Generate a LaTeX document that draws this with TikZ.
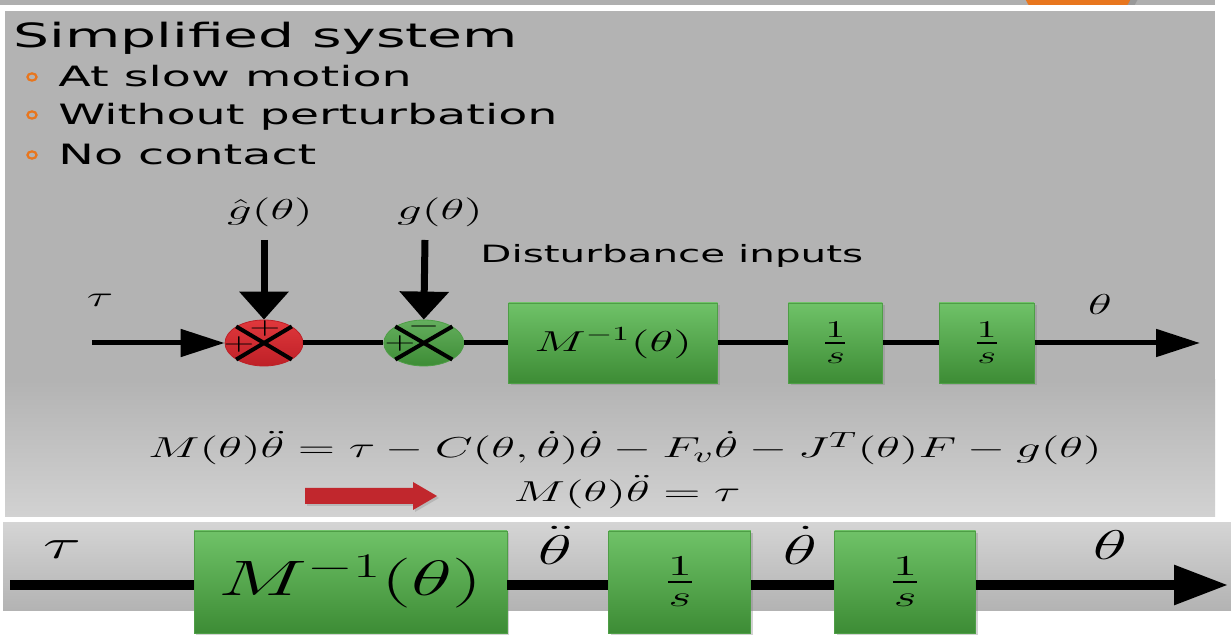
\documentclass[tikz,border=0pt]{standalone}
\usepackage{fontspec}
\usepackage{graphicx}
\usepackage{amsmath}
\usepackage{tikz}
\usetikzlibrary{arrows.meta, positioning, calc, shapes.geometric, shadows}
\newfontfamily\verd{DejaVu Sans}
\newcommand{\xwide}[1]{\scalebox{1.7}[1]{#1}}
\definecolor{panel}{HTML}{B3B3B3}
\definecolor{panellt}{HTML}{D2D2D2}
\definecolor{grntop}{HTML}{6FC268}
\definecolor{grnbot}{HTML}{3D8C35}
\definecolor{grnedge}{HTML}{4E9E46}
\definecolor{redtop}{HTML}{E0383C}
\definecolor{redbot}{HTML}{BE2027}
\definecolor{bulorange}{HTML}{E8761E}
\definecolor{arrred}{HTML}{C1272D}
\tikzset{
  blk/.style  = {rectangle, draw=grnedge, top color=grntop, bottom color=grnbot,
                 inner sep=0pt, drop shadow={opacity=.35, shadow xshift=1.2pt, shadow yshift=-1.2pt}},
  sumr/.style = {ellipse, draw=redbot, top color=redtop, bottom color=redbot,
                 minimum width=39pt, minimum height=23pt, inner sep=0pt},
  sumg/.style = {ellipse, draw=grnedge, top color=grntop!90!black, bottom color=grnbot,
                 minimum width=40pt, minimum height=23pt, inner sep=0pt},
  txt/.style  = {anchor=base west, inner sep=0pt, font=\verd\fontsize{14}{16}\selectfont},
  bul/.style  = {ellipse, draw=bulorange, line width=1.1pt, minimum width=4.6pt,
                 minimum height=3.6pt, inner sep=0pt},
  mlab/.style = {inner sep=0pt, font=\fontsize{14}{16}\selectfont},
  blab/.style = {inner sep=0pt, font=\fontsize{22}{24}\selectfont},
  sgn/.style  = {inner sep=0pt, font=\fontsize{12}{13}\selectfont},
  fl/.style   = {-{Triangle[length=22pt, width=13.5pt]}, line width=2.5pt},
  dn/.style   = {-{Triangle[length=14pt, width=24pt]}, line width=3.5pt},
  bfl/.style  = {-{Triangle[length=27pt, width=19pt]}, line width=4.5pt},
  bln/.style  = {line width=4.5pt},
  ln/.style   = {line width=2.5pt},
  xl/.style   = {line width=2pt},
}

\begin{document}
\begin{tikzpicture}[x=0.5pt, y=-0.5pt]
  \useasboundingbox (0,0) rectangle (1231,640);
  % panels
  \fill[white] (0,0) rectangle (1231,640);
  \fill[panel!105] (0,0) rectangle (1215,5);
  \begin{scope}
    \clip (0,0) rectangle (1215,5);
    \fill[black!40] (1082,-20) ellipse (60 and 52);
    \fill[bulorange] (1078,-20) ellipse (57 and 50);
  \end{scope}
  \fill[panel] (5,11) rectangle (1215,517);
  \shade[top color=panel, bottom color=panellt] (5,380) rectangle (1215,517);
  \shade[top color=panellt!95, bottom color=panel] (3,523) rectangle (1231,610);

  % bullet text
  \node[txt, font=\verd\fontsize{16.7}{20}\selectfont] (ttl) at (13,48) {\xwide{Simplified system}};
  \node[bul] (b1) at (32,77)  {};
  \node[bul] (b2) at (32,115) {};
  \node[bul] (b3) at (32,155) {};
  \node[txt] (it1) at (58,87)  {\xwide{At slow motion}};
  \node[txt] (it2) at (58,125) {\xwide{Without perturbation}};
  \node[txt] (it3) at (58,165) {\xwide{No contact}};

  % upper block diagram
  \node[sumr] (sumA) at (264,343) {};
  \node[sumg, right=40pt of sumA] (sumB) {};
  \node[blk, right=22pt of sumB, minimum width=104.5pt, minimum height=40pt,
        font=\fontsize{14.5}{16}\selectfont] (blkM) {\xwide{$M^{-1}(\theta)$}};
  \node[blk, right=35pt of blkM, minimum width=47pt, minimum height=40pt,
        font=\fontsize{17}{19}\selectfont] (blkI1) {\xwide{$\frac{1}{s}$}};
  \node[blk, right=28pt of blkI1, minimum width=47.5pt, minimum height=40pt,
        font=\fontsize{17}{19}\selectfont] (blkI2) {\xwide{$\frac{1}{s}$}};
  \coordinate (tin) at (92,343);
  \coordinate (tout) at (1200,343);
  \coordinate (dA) at (264,240);
  \coordinate (dB) at (425,240);

  \draw[xl] (sumA.north west) -- (sumA.south east);
  \draw[xl] (sumA.south west) -- (sumA.north east);
  \draw[xl] (sumB.north west) -- (sumB.south east);
  \draw[xl] (sumB.south west) -- (sumB.north east);
  \node[sgn] (pA1) at ($(sumA)+(1,-14)$) {\xwide{$+$}};
  \node[sgn] (pA2) at ($(sumA)+(-25,2)$) {\xwide{$+$}};
  \node[sgn] (mB1) at ($(sumB)+(0,-16)$) {\xwide{$-$}};
  \node[sgn] (pB2) at ($(sumB)+(-24,1)$) {\xwide{$+$}};

  \draw[fl] (tin) -- (sumA.west);
  \draw[dn] (dA) -- (sumA.north);
  \draw[dn] (dB) -- (sumB.north);
  \draw[ln] (sumA) -- (sumB);
  \draw[ln] (sumB) -- (blkM);
  \draw[ln] (blkM) -- (blkI1);
  \draw[ln] (blkI1) -- (blkI2);
  \draw[fl] (blkI2) -- (tout);

  \node[mlab] (ghat) at (270,212) {\xwide{$\hat{g}(\theta)$}};
  \node[mlab] (gth)  at (440,212) {\xwide{$g(\theta)$}};
  \node[txt, font=\verd\fontsize{11.9}{14}\selectfont] (dist) at (480,263) {\xwide{Disturbance inputs}};
  \node[mlab] (tau1) at (100,300) {\xwide{$\tau$}};
  \node[mlab] (th1)  at (1100,305) {\xwide{$\theta$}};

  % equations
  \node[inner sep=0pt, font=\fontsize{15.7}{17}\selectfont] (eqfull) at (625,448)
    {\xwide{$M(\theta)\ddot{\theta} = \tau - C(\theta,\dot{\theta})\dot{\theta} - F_v\dot{\theta} - J^T(\theta)F - g(\theta)$}};
  \node[inner sep=0pt, font=\fontsize{15.7}{17}\selectfont] (eqsimp) at (627,492)
    {\xwide{$M(\theta)\ddot{\theta} = \tau$}};
  \coordinate (ra) at (305,496);
  \fill[arrred, drop shadow={opacity=.3, shadow xshift=1pt, shadow yshift=-1pt}]
    ($(ra)+(0,-8)$) -- ++(108,0) -- ++(0,-6) -- ++(24,14) -- ++(-24,14) -- ++(0,-6) -- ++(-108,0) -- cycle;

  % lower block diagram
  \node[blk, minimum width=156.5pt, minimum height=51pt, font=\fontsize{24}{26}\selectfont]
    (bM) at (350.5,582) {\xwide{$M^{-1}(\theta)$}};
  \node[blk, right=50.5pt of bM, minimum width=71pt, minimum height=51pt,
        font=\fontsize{20}{22}\selectfont] (bI1) {\xwide{$\frac{1}{s}$}};
  \node[blk, right=41.5pt of bI1, minimum width=70.5pt, minimum height=51pt,
        font=\fontsize{20}{22}\selectfont] (bI2) {\xwide{$\frac{1}{s}$}};
  \coordinate (bin) at (10,585);
  \coordinate (bout) at (1228,585);
  \draw[bln] (bin) -- (bM.west |- bin);
  \draw[bln] (bM.east |- bin) -- (bI1.west |- bin);
  \draw[bln] (bI1.east |- bin) -- (bI2.west |- bin);
  \draw[bfl] (bI2.east |- bin) -- (bout);
  \node[blab] (tau2)  at (62,550)   {\xwide{$\tau$}};
  \node[blab] (thdd)  at (555,545)  {\xwide{$\ddot{\theta}$}};
  \node[blab] (thd)   at (800,545)  {\xwide{$\dot{\theta}$}};
  \node[blab] (th2)   at (1110,545) {\xwide{$\theta$}};
\end{tikzpicture}
\end{document}
